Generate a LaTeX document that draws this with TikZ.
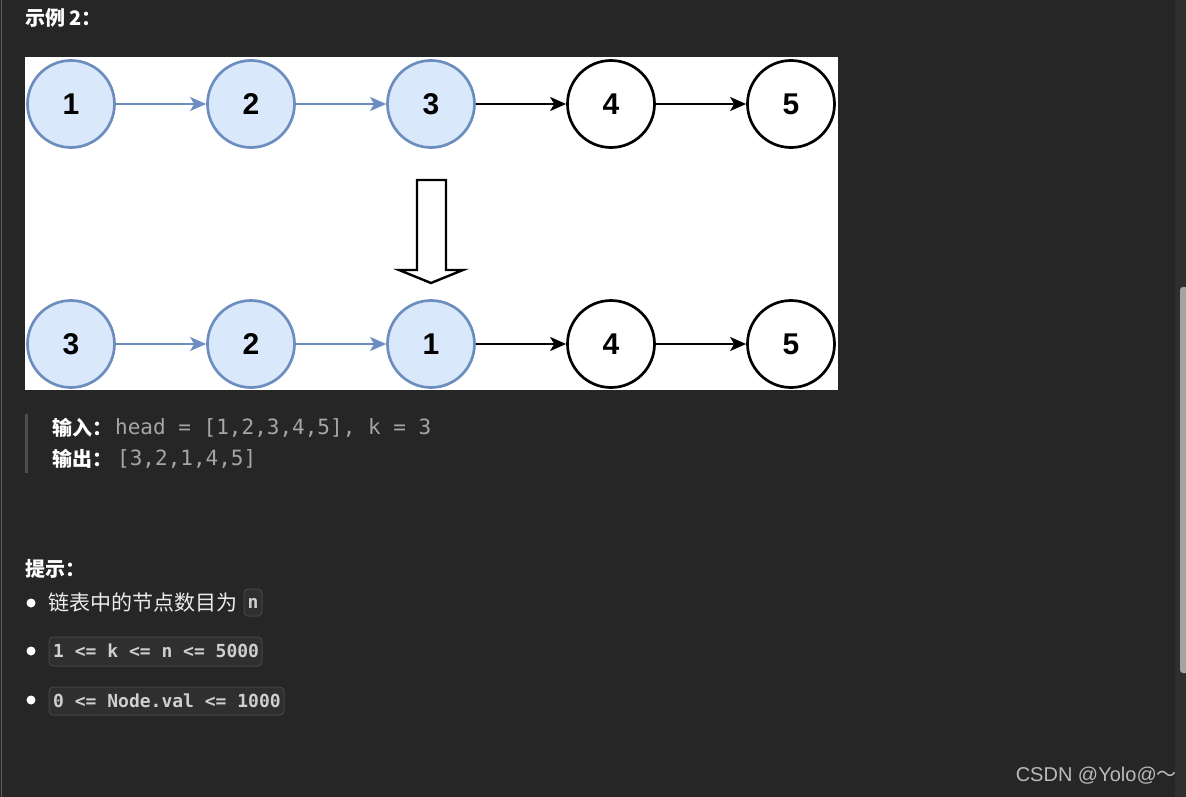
\documentclass[tikz,border=0pt]{standalone}
\usepackage{fontspec}
\setmainfont{Liberation Sans}
\newfontfamily\cjk{Noto Sans CJK SC}
\newfontfamily\monof{DejaVu Sans Mono}
\newfontfamily\numf{Liberation Sans}
\usetikzlibrary{arrows.meta}
\definecolor{bgc}{HTML}{262626}
\definecolor{bfill}{HTML}{DAE8FC}
\definecolor{bdraw}{HTML}{6C8EBF}
\definecolor{codegray}{HTML}{A6A6A6}
\definecolor{codelite}{HTML}{CFCFCF}
\definecolor{boxfill}{HTML}{2F2F2F}
\definecolor{boxline}{HTML}{454545}
\tikzset{
  lnode/.style={circle,minimum size=87pt,inner sep=0pt,line width=2.7pt,font=\numf\bfseries\fontsize{30}{30}\selectfont},
  bnode/.style={lnode,draw=bdraw,fill=bfill},
  wnode/.style={lnode,draw=black,fill=white},
  barrow/.style={line width=2.4pt,draw=bdraw,-{Stealth[length=16pt,width=14pt,inset=4pt]}},
  karrow/.style={line width=2.4pt,draw=black,-{Stealth[length=16pt,width=14pt,inset=4pt]}},
  txt/.style={anchor=west,inner sep=0pt},
  cjkb/.style={txt,text=white,font=\cjk\bfseries\fontsize{20}{24}\selectfont},
  cjkr/.style={txt,text=white!92!black,font=\cjk\fontsize{21}{24}\selectfont},
  codebig/.style={txt,text=codegray,font=\monof\fontsize{21}{24}\selectfont},
  codesmall/.style={txt,text=codelite,font=\monof\bfseries\fontsize{18}{22}\selectfont},
  codebox/.style={draw=boxline,fill=boxfill,line width=1pt,rounded corners=4pt},
  bulletdot/.style={circle,fill=white,inner sep=0pt,minimum size=9pt}
}
\begin{document}
\begin{tikzpicture}[x=1pt,y=-1pt]
\useasboundingbox (0,0) rectangle (1186,797);
\fill[bgc] (0,0) rectangle (1186,797);
% left border and scrollbar
\draw[color=white!25!bgc,line width=1.5pt] (1.5,0) -- (1.5,797);
\fill[color=white!4!bgc] (1175,0) rectangle (1186,797);
\fill[color=white!58!bgc,rounded corners=3pt] (1180,287) rectangle (1190,673);
% title
\node[cjkb] (title) at (25,18) {示例 2：};
% image
\fill[white] (25,57) rectangle (838,390);
\node[bnode] (t1) at (71,104) {1};
\node[bnode] (t2) at (251,104) {2};
\node[bnode] (t3) at (431,104) {3};
\node[wnode] (t4) at (611,104) {4};
\node[wnode] (t5) at (791,104) {5};
\draw[barrow] (t1) -- (t2);
\draw[barrow] (t2) -- (t3);
\draw[karrow] (t3) -- (t4);
\draw[karrow] (t4) -- (t5);
\node[bnode] (b1) at (71,344) {3};
\node[bnode] (b2) at (251,344) {2};
\node[bnode] (b3) at (431,344) {1};
\node[wnode] (b4) at (611,344) {4};
\node[wnode] (b5) at (791,344) {5};
\draw[barrow] (b1) -- (b2);
\draw[barrow] (b2) -- (b3);
\draw[karrow] (b3) -- (b4);
\draw[karrow] (b4) -- (b5);
\draw[line width=2.4pt,fill=white,line join=miter] (417,180) -- (446,180) -- (446,270) -- (463,270) -- (431,283) -- (399,270) -- (417,270) -- cycle;
% input/output
\fill[color=white!18!bgc] (25,414) rectangle (28,473);
\node[cjkb] (inl) at (52,428) {输入：};
\node[codebig] (inv) at (115,428) {head = [1,2,3,4,5], k = 3};
\node[cjkb] (outl) at (52,459) {输出：};
\node[codebig] (outv) at (117,459) {[3,2,1,4,5]};
% hints
\node[cjkb] (hint) at (25,569) {提示：};
\node[bulletdot] (d1) at (31,603) {};
\node[cjkr] (h1) at (48,603) {链表中的节点数目为};
\draw[codebox] (244,589) rectangle (262,616);
\node[codesmall,anchor=center] (h1n) at (253,603) {n};
\node[bulletdot] (d2) at (31,651) {};
\draw[codebox] (49,637) rectangle (262,666);
\node[codesmall] (h2) at (53,651) {1 <= k <= n <= 5000};
\node[bulletdot] (d3) at (31,700) {};
\draw[codebox] (49,687) rectangle (284,715);
\node[codesmall] (h3) at (53,701) {0 <= Node.val <= 1000};
% watermark
\node[anchor=east,inner sep=0pt,text=white!68!bgc,font=\fontsize{20}{24}\selectfont] (wm) at (1177,776) {CSDN @Yolo@{\cjk ～}};
\end{tikzpicture}
\end{document}
